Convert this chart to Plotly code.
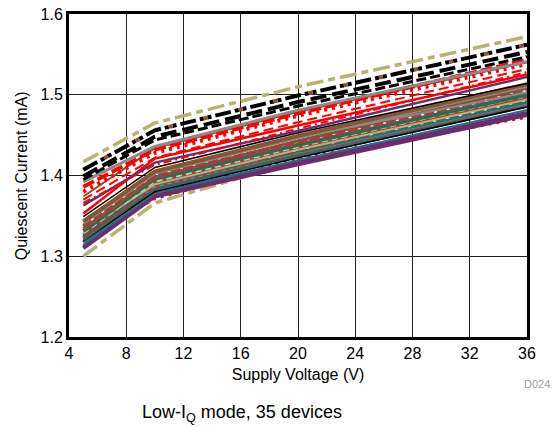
import plotly.graph_objects as go

# supply voltage sample points (V)
voltage = [5, 10, 20, 36]

# quiescent current per device (mA), top of the bundle first
iq_dev01 = [1.417, 1.465, 1.510, 1.572]
iq_dev02 = [1.407, 1.456, 1.499, 1.562]
iq_dev03 = [1.399, 1.448, 1.491, 1.553]
iq_dev04 = [1.395, 1.444, 1.486, 1.547]
iq_dev05 = [1.392, 1.436, 1.481, 1.541]
iq_dev06 = [1.386, 1.432, 1.477, 1.543]
iq_dev07 = [1.380, 1.428, 1.474, 1.538]
iq_dev08 = [1.374, 1.434, 1.479, 1.540]
iq_dev09 = [1.370, 1.422, 1.466, 1.532]
iq_dev10 = [1.366, 1.413, 1.458, 1.528]
iq_dev11 = [1.363, 1.416, 1.455, 1.522]
iq_dev12 = [1.353, 1.421, 1.462, 1.525]
iq_dev13 = [1.349, 1.410, 1.453, 1.514]
iq_dev14 = [1.343, 1.405, 1.449, 1.513]
iq_dev15 = [1.345, 1.403, 1.447, 1.503]
iq_dev16 = [1.340, 1.402, 1.446, 1.510]
iq_dev17 = [1.337, 1.400, 1.441, 1.505]
iq_dev18 = [1.334, 1.398, 1.443, 1.508]
iq_dev19 = [1.331, 1.396, 1.438, 1.500]
iq_dev20 = [1.329, 1.393, 1.436, 1.499]
iq_dev21 = [1.332, 1.389, 1.432, 1.494]
iq_dev22 = [1.327, 1.392, 1.434, 1.496]
iq_dev23 = [1.325, 1.390, 1.431, 1.493]
iq_dev24 = [1.324, 1.385, 1.430, 1.497]
iq_dev25 = [1.323, 1.388, 1.429, 1.490]
iq_dev26 = [1.326, 1.386, 1.428, 1.489]
iq_dev27 = [1.321, 1.387, 1.427, 1.488]
iq_dev28 = [1.320, 1.384, 1.426, 1.491]
iq_dev29 = [1.319, 1.380, 1.422, 1.485]
iq_dev30 = [1.317, 1.383, 1.424, 1.486]
iq_dev31 = [1.314, 1.378, 1.419, 1.481]
iq_dev32 = [1.313, 1.376, 1.417, 1.478]
iq_dev33 = [1.310, 1.374, 1.414, 1.475]
iq_dev34 = [1.322, 1.372, 1.420, 1.473]
iq_dev35 = [1.300, 1.366, 1.418, 1.478]

x_ticks = [4, 8, 12, 16, 20, 24, 28, 32, 36]
y_ticks = [1.2, 1.3, 1.4, 1.5, 1.6]

KHAKI = "#B8B26E"
BLACK = "#000000"
GREY = "#8A8A8A"
RED = "#FF0000"
BROWN = "#87562E"
PURPLE = "#6E2C6C"
GREEN = "#2F6B4F"
TEAL = "#2D6A86"
MAROON = "#A33E3E"
LIGHT = "#C8C8C8"

# (data, colour, width, dash)
devices = [
    (iq_dev35, KHAKI, 3.5, "17px,5px,7px,5px"),
    (iq_dev34, RED, 4, "3px,5px"),
    (iq_dev33, PURPLE, 4, "solid"),
    (iq_dev32, PURPLE, 3, "solid"),
    (iq_dev31, TEAL, 2, "solid"),
    (iq_dev30, TEAL, 4, "solid"),
    (iq_dev29, BLACK, 1.5, "solid"),
    (iq_dev28, GREEN, 2, "solid"),
    (iq_dev27, BROWN, 2, "solid"),
    (iq_dev26, GREY, 1.5, "solid"),
    (iq_dev25, TEAL, 2, "solid"),
    (iq_dev24, MAROON, 3, "4px,4px"),
    (iq_dev23, GREEN, 3, "10px,3px"),
    (iq_dev22, MAROON, 3, "solid"),
    (iq_dev21, KHAKI, 2, "solid"),
    (iq_dev20, LIGHT, 3, "6px,4px"),
    (iq_dev19, GREEN, 4, "solid"),
    (iq_dev18, BROWN, 3, "solid"),
    (iq_dev17, MAROON, 4, "10px,3px"),
    (iq_dev16, GREY, 2, "solid"),
    (iq_dev15, GREY, 2, "solid"),
    (iq_dev14, BROWN, 4, "solid"),
    (iq_dev13, BLACK, 1.5, "solid"),
    (iq_dev12, RED, 2.5, "solid"),
    (iq_dev11, PURPLE, 2.5, "solid"),
    (iq_dev10, RED, 2, "8px,4px,2px,4px"),
    (iq_dev09, RED, 2, "10px,5px"),
    (iq_dev08, BROWN, 2, "solid"),
    (iq_dev07, RED, 4, "3px,5px"),
    (iq_dev06, RED, 4, "12px,4px"),
    (iq_dev05, GREY, 3, "solid"),
    (iq_dev04, BLACK, 3, "10px,4px"),
    (iq_dev03, BLACK, 4, "16px,6px"),
    (iq_dev02, BLACK, 4, "16px,4px,4px,4px,4px,4px"),
    (iq_dev01, KHAKI, 3.5, "17px,5px,7px,5px"),
]

fig = go.Figure()
for values, color, width, dash in devices:
    fig.add_trace(go.Scatter(x=voltage, y=values, mode="lines",
                             line=dict(color=color, width=width, dash=dash),
                             hoverinfo="skip"))
    if dash == "16px,4px,4px,4px,4px,4px":
        # brown dot inside the black dash-dot-dot pattern
        fig.add_trace(go.Scatter(x=voltage, y=values, mode="lines",
                                 line=dict(color=BROWN, width=width, dash="0px,24px,4px,8px"),
                                 hoverinfo="skip"))

FONT = "Liberation Sans, Arial, sans-serif"
axis_font = dict(family=FONT, size=16, color="black")

fig.update_xaxes(range=[4, 36], tickvals=x_ticks, showgrid=True, gridcolor="#222", gridwidth=1,
                 showline=True, linecolor="black", linewidth=3, mirror=True, ticks="",
                 tickfont=axis_font, zeroline=False, automargin=False,
                 title=dict(text="Supply Voltage (V)", font=axis_font, standoff=8))
fig.update_yaxes(range=[1.2, 1.6], tickvals=y_ticks, tickformat=".1f", showgrid=True,
                 gridcolor="#222", gridwidth=1, showline=True, linecolor="black", linewidth=3,
                 mirror=True, ticks="", tickfont=axis_font, zeroline=False, automargin=False)

fig.add_annotation(text="Quiescent Current (mA)", xref="paper", yref="paper",
                   x=-0.126, y=0.5, textangle=-90, showarrow=False, font=axis_font)
fig.add_annotation(text="D024", xref="paper", yref="paper", x=1.055, y=-0.17,
                   showarrow=False, font=dict(family=FONT, size=11, color="#A0A0A0"))
fig.add_annotation(text="Low-I<sub>Q</sub> mode, 35 devices", xref="paper", yref="paper",
                   x=0.378, y=-0.28, showarrow=False,
                   font=dict(family=FONT, size=18, color="black"))

fig.update_layout(width=553, height=427, showlegend=False,
                  margin=dict(l=69, r=26, t=14, b=90, autoexpand=False),
                  plot_bgcolor="white", paper_bgcolor="white")

fig.write_html("out.html", config={"displayModeBar": False},
               post_script="document.body.style.margin='0';")
